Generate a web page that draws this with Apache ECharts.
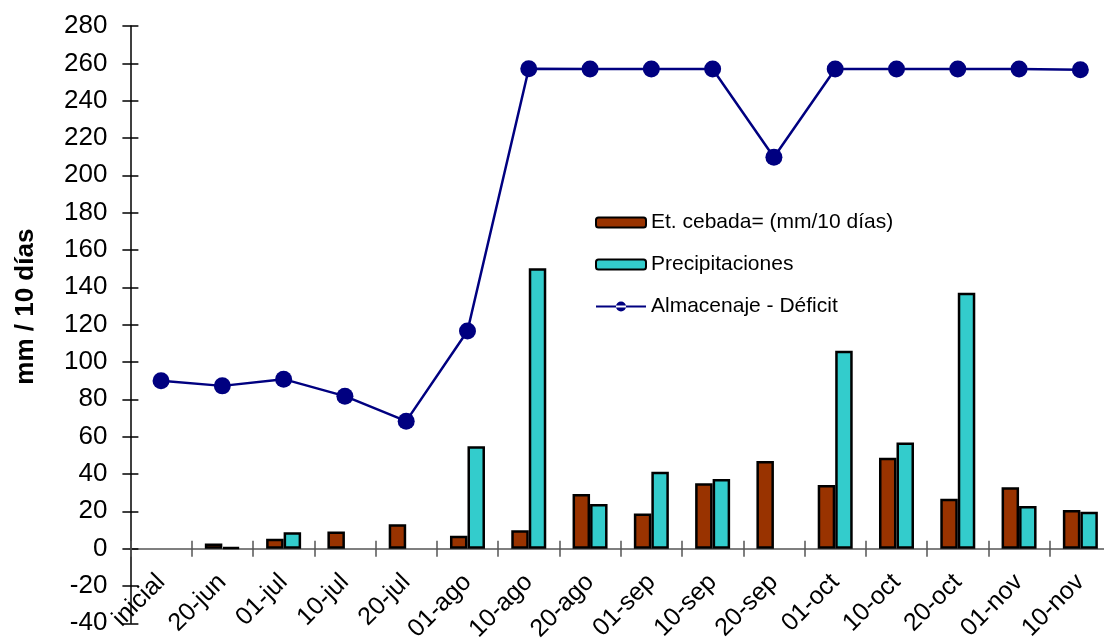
<!DOCTYPE html>
<html>
<head>
<meta charset="utf-8">
<title>Balance hídrico - cebada</title>
<script src="https://cdn.jsdelivr.net/npm/echarts@6/dist/echarts.min.js"></script>
<style>
  html, body { margin: 0; padding: 0; background: #ffffff; }
  #chart { width: 1104px; height: 638px; }
</style>
</head>
<body>
<div id="chart"></div>
<script>
// Decades of the season
const categories = ['inicial', '20-jun', '01-jul', '10-jul', '20-jul', '01-ago', '10-ago', '20-ago',
  '01-sep', '10-sep', '20-sep', '01-oct', '10-oct', '20-oct', '01-nov', '10-nov'];

// Crop evapotranspiration (mm / 10 days)
const etCebada = [null, 2.8, 5.3, 9.2, 13, 6.9, 9.9, 29.3, 18.8, 35, 47, 34.1, 48.7, 26.7, 32.9, 20.7];

// Rainfall (mm / 10 days)
const precipitaciones = [null, 0.7, 8.8, null, null, 54.9, 150.2, 23.9, 41.2, 37.3, null, 106, 56.8, 137.1, 22.8, 19.8];

// Soil water storage - deficit
const almacenaje = [90, 87.2, 90.8, 81.7, 68.3, 116.6, 257.1, 257, 257, 257, 209.7, 257, 257, 257, 257, 256.6];

// Value axis ticks
const yMin = -40, yMax = 280, yStep = 20;

const font = 'Arial, "Liberation Sans", Helvetica, sans-serif';

// Legend marker for the line series: a short line with a dot in the middle
const lineDotIcon = 'path://M0,4H50V6H0Z M20,5a5,5 0 1,0 10,0a5,5 0 1,0 -10,0Z';

const chart = echarts.init(document.getElementById('chart'), null, { renderer: 'canvas' });

const catAxisBase = { type: 'category', data: categories, boundaryGap: true, splitLine: { show: false } };

chart.setOption({
  backgroundColor: '#ffffff',
  animation: false,
  textStyle: { fontFamily: font },
  legend: {
    orient: 'vertical',
    left: 595,
    top: 212,
    padding: 0,
    itemWidth: 50,
    itemHeight: 10,
    itemGap: 21,
    textStyle: { fontSize: 21, color: '#000', lineHeight: 21 },
    data: [
      { name: 'Et. cebada= (mm/10 días)', itemStyle: { borderColor: '#000', borderWidth: 2 } },
      { name: 'Precipitaciones', itemStyle: { borderColor: '#000', borderWidth: 2 } },
      { name: 'Almacenaje - Déficit', icon: lineDotIcon, itemStyle: { color: '#000080', borderWidth: 0 } }
    ]
  },
  grid: {
    left: 130.4,
    right: -7,
    top: 26,
    bottom: 14.7,
    containLabel: false,
    outerBoundsMode: 'none'
  },
  xAxis: [
    Object.assign({}, catAxisBase, {
      // axis line through zero with the outer half of the crossing ticks
      axisLine: { onZero: true, onZeroAxisIndex: 0, lineStyle: { color: '#555', width: 1.5 } },
      axisTick: { show: true, inside: false, length: 8, lineStyle: { color: '#555', width: 1.5 } },
      axisLabel: { show: false }
    }),
    Object.assign({}, catAxisBase, {
      // inner half of the crossing ticks
      position: 'bottom',
      axisLine: { show: false, onZero: true, onZeroAxisIndex: 0 },
      axisTick: { show: true, inside: true, length: 8, lineStyle: { color: '#555', width: 1.5 } },
      axisLabel: { show: false }
    }),
    Object.assign({}, catAxisBase, {
      // category labels, slanted, sitting low in the plot
      position: 'bottom',
      axisLine: { show: false, onZero: false },
      axisTick: { show: false },
      axisLabel: { rotate: 45, fontSize: 25, color: '#000', margin: -45, interval: 0 }
    })
  ],
  yAxis: [{
    type: 'value',
    min: yMin,
    max: yMax,
    interval: yStep,
    name: 'mm / 10 días',
    nameLocation: 'middle',
    nameGap: 92,
    nameRotate: 90,
    nameTextStyle: { fontSize: 26, fontWeight: 'bold', color: '#000', fontFamily: font, padding: [0, 0, 0, 36] },
    axisLine: { show: true, lineStyle: { color: '#000', width: 1.5 } },
    axisTick: { show: true, inside: false, length: 8, lineStyle: { color: '#000', width: 1.5 } },
    axisLabel: { fontSize: 26, color: '#000', margin: 23 },
    splitLine: { show: false }
  }, {
    // inner half of the crossing value ticks
    type: 'value',
    min: yMin,
    max: yMax,
    interval: yStep,
    position: 'left',
    axisLine: { show: false },
    axisTick: { show: true, inside: true, length: 8, lineStyle: { color: '#000', width: 1.5 } },
    axisLabel: { show: false },
    splitLine: { show: false }
  }],
  series: [
    {
      name: 'Et. cebada= (mm/10 días)',
      type: 'bar',
      data: etCebada,
      barWidth: 17.5,
      barGap: '0%',
      itemStyle: { color: '#993300', borderColor: '#000', borderWidth: 2.5 }
    },
    {
      name: 'Precipitaciones',
      type: 'bar',
      data: precipitaciones,
      barWidth: 17.5,
      barGap: '0%',
      itemStyle: { color: '#33CCCC', borderColor: '#000', borderWidth: 2.5 }
    },
    {
      name: 'Almacenaje - Déficit',
      type: 'line',
      data: almacenaje,
      symbol: 'circle',
      symbolSize: 17,
      z: 5,
      lineStyle: { color: '#000080', width: 2.5 },
      itemStyle: { color: '#000080' }
    }
  ]
});
</script>
</body>
</html>
